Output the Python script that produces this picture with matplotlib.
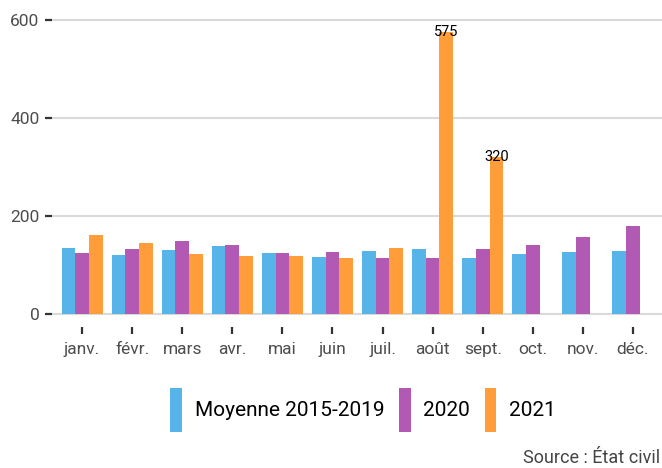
import numpy as np
import matplotlib
matplotlib.use("Agg")
import matplotlib.pyplot as plt

plt.rcParams['font.family'] = ['Roboto', 'DejaVu Sans']

# === Données ===
mois = ['janv.', 'févr.', 'mars', 'avr.', 'mai', 'juin',
        'juil.', 'août', 'sept.', 'oct.', 'nov.', 'déc.']
moyenne_2015_2019 = [135, 120, 131, 139, 125, 116, 129, 133, 114, 122, 127, 129]
annee_2020 = [124, 133, 149, 141, 125, 127, 114, 114, 133, 141, 157, 180]
annee_2021 = [161, 145, 122, 118, 118, 114, 135, 575, 320, np.nan, np.nan, np.nan]
series = ['Moyenne 2015-2019', '2020', '2021']
couleurs = ['#56B4E9', '#B25AB3', '#FF9D3A']
valeurs_annotees = [575, 320]

# === Figure ===
fig = plt.figure(figsize=(6.62, 4.68), dpi=100)
ax = fig.add_axes([52 / 662, 141 / 468, 610 / 662, 327 / 468])

x = np.arange(len(mois))
w = 0.273
for i, (nom, vals, c) in enumerate(zip(series, [moyenne_2015_2019, annee_2020, annee_2021], couleurs)):
    ax.bar(x + (i - 1) * w, vals, width=w, color=c, label=nom, zorder=3)

# etiquettes sur les barres de 2021 les plus hautes
for xi, v in zip(x, annee_2021):
    if v in valeurs_annotees:
        ax.text(xi + w, v, f"{int(v)}", ha='center', va='center',
                fontsize=10.5, color='black', zorder=4)

ax.set_xlim(-0.6, 11.58)
ax.set_ylim(-26.5, 640.8)
ax.set_yticks([0, 200, 400, 600])
ax.set_xticks(x)
ax.set_xticklabels(mois)

ax.yaxis.grid(True, color='#D9D9D9', linewidth=1.5, zorder=0)
ax.set_axisbelow(True)
for s in ax.spines.values():
    s.set_visible(False)

ax.tick_params(axis='y', length=5, width=1.6, color='#333333',
               labelsize=12.5, labelcolor='#4D4D4D', pad=4)
ax.tick_params(axis='x', length=5, width=1.6, color='#333333',
               labelsize=12.5, labelcolor='#4D4D4D', pad=5.5)

fig.legend(loc='center', bbox_to_anchor=(363 / 662, 58 / 468), ncol=3,
           frameon=False, fontsize=15, handlelength=0.57, handleheight=2.85,
           handletextpad=0.6, columnspacing=0.7)

fig.text(660 / 662, 10 / 468, "Source : État civil", ha='right', va='center',
         fontsize=13, color='#444444')

fig.savefig("out.png", dpi=100)
